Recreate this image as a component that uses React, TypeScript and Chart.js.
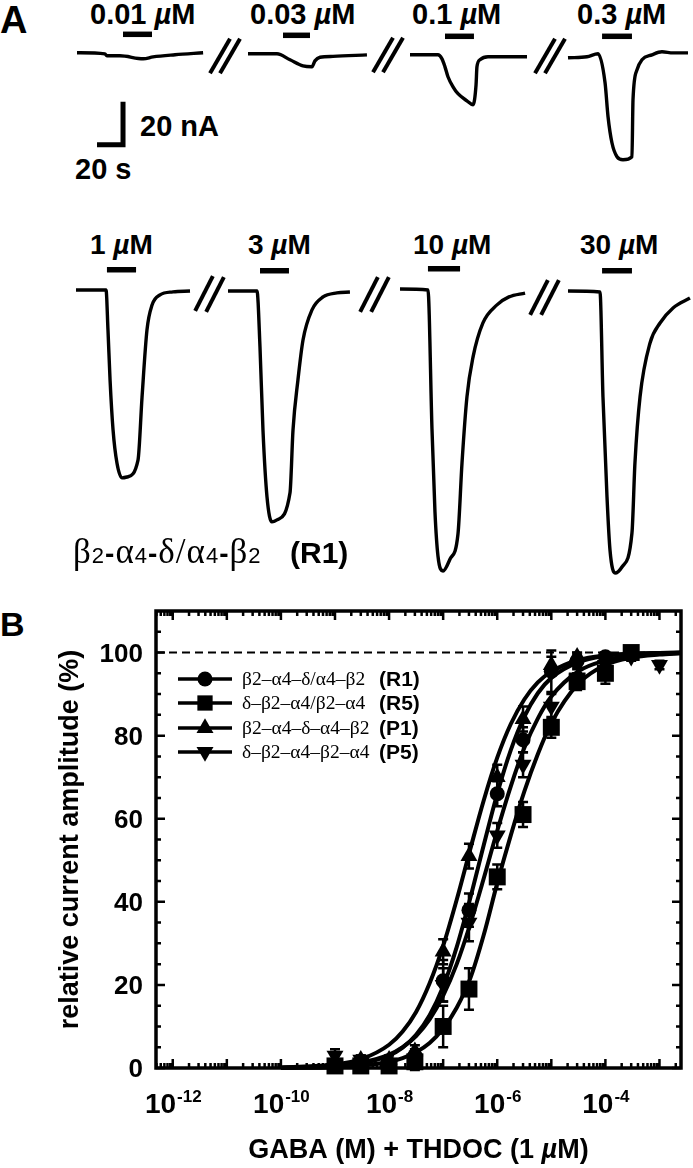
import React, { useEffect, useRef } from "react";
import { Chart, registerables } from "chart.js";

Chart.register(...registerables);

const SANS = '"Liberation Sans", Arial, sans-serif';
const SERIF = '"Liberation Serif", "Times New Roman", serif';

// ---------------- Panel A: current traces (time in s, current in nA) ----------------
const concLabels = ["0.01", "0.03", "0.1", "0.3", "1", "3", "10", "30"];

const time001 = [0, 21.5, 23, 33, 51, 58.5, 75.4, 97];
const curr001 = [0, -0.5, -1.4, -1.4, -2.8, -1.9, -0.9, 0];

const time003 = [0, 22.3, 32.3, 42.3, 49.2, 51.5, 55.4, 65.4, 91.5];
const curr003 = [0, 0, -2.8, -5.6, -6.0, -3.3, -1.6, -1.2, -0.5];

const time01 = [0, 21.5, 24.6, 26.9, 29.2, 33.1, 36.9, 43.8, 48.5, 50.8, 51.5, 53.8, 60, 90];
const curr01 = [0, 0, -1.9, -5.6, -10.2, -14.9, -18.1, -21.4, -23.3, -14, -5.6, -2.3, -0.9, -0.9];

const time03 = [0, 14.6, 23.1, 28.5, 30.8, 33.8, 37.7, 42.3, 49.2, 50, 53.1, 56.9, 64.6, 72.3, 80.8, 92.3];
const curr03 = [-1.4, -0.9, 0.5, -13.0, -28.8, -40.9, -47.4, -48.8, -47.4, -20.9, -7.0, -2.3, 0, 1.4, 0.9, 0.9];

const time1 = [0, 23.1, 24.6, 26.2, 28.5, 31.5, 35.4, 39.2, 47.7, 50.8, 54.6, 58.5, 64.6, 74.6, 87.7];
const curr1 = [0, 0, -18.6, -41.9, -65.1, -80.5, -87.4, -87.0, -79.1, -49.8, -18.6, -7.0, -2.3, -0.9, -0.5];

const time3 = [0, 22.3, 24.6, 26.9, 30, 33.8, 37.7, 47.7, 50, 53.8, 57.7, 64.6, 73.1, 83.8, 93.8];
const curr3 = [0, 0, -26, -64.7, -95.8, -107.4, -106.5, -93.9, -64.7, -41.4, -22.8, -8.8, -2.8, -0.9, -0.5];

const time10 = [0, 21.5, 24.6, 26.9, 29.2, 33.1, 38.5, 44.6, 47.7, 51.5, 56.2, 63.8, 74.6, 83.8, 96.2];
const curr10 = [0, -0.5, -65.1, -103.7, -124.2, -131.2, -125.6, -114, -80.9, -50.2, -31.6, -15.8, -7.4, -3.7, -1.9];

const time30 = [0, 24.6, 26.9, 30, 32.3, 36.2, 41.5, 49.2, 51.5, 55.4, 63.1, 70.8, 80.8, 93.8];
const curr30 = [0, -0.5, -49.3, -95.8, -120.5, -131.2, -128.4, -112.6, -80, -49.3, -24.2, -14.9, -7.9, -3.3];

const barStart = [35.4, 26.9, 26.9, 26.2, 23.8, 24.6, 21.5, 26.2];
const barEnd = [57.7, 47.7, 49.2, 49.2, 46.2, 46.9, 46.2, 49.2];

const scaleBarSeconds = 20;
const scaleBarNanoamps = 20;

const traceTimes = [time001, time003, time01, time03, time1, time3, time10, time30];
const traceCurrents = [curr001, curr003, curr01, curr03, curr1, curr3, curr10, curr30];

// ---------------- Panel B: concentration-response ----------------
const gabaConc = [1e-9, 3e-9, 1e-8, 3e-8, 1e-7, 3e-7, 1e-6, 3e-6, 1e-5, 3e-5, 1e-4, 3e-4, 1e-3];
const r1Mean = [null, 1.5, 1, 3, 21, 38, 66, 79, 95.5, 98, 99, null, null];
const r1Sem = [null, 1, 1, 1.5, 5, 4, 3, 3, 5, 1.5, 1, null, null];
const r5Mean = [0.5, 0.5, 0.5, 1.5, 10, 19, 46, 61, 82, 93, 95, 100, null];
const r5Sem = [1, 1, 1, 2, 5, 5, 3, 3, 2.5, 2, 2.5, 1, null];
const p1Mean = [null, 2, 2, 4, 28, 51, 70, 84, 97, 99, null, null, null];
const p1Sem = [null, 1, 1, 1.5, 3, 3, 3, 3, 2, 1, null, null, null];
const p5Mean = [3, 2, 1, 2, 20, 35, 56, 73, 87, 94, 97, 99, 97];
const p5Sem = [1.5, 1, 1, 1.5, 4, 4.5, 3, 3, 3, 2, 1.5, 1, 1];

const fitConc = [1e-10, 1e-9, 3.16e-9, 1e-8, 1.78e-8, 3.16e-8, 5.62e-8, 1e-7, 1.78e-7, 3.16e-7, 5.62e-7, 1e-6, 1.78e-6, 3.16e-6, 5.62e-6, 1e-5, 3.16e-5, 1e-4, 3.16e-4, 1e-3, 2.5e-3];
const r1Fit = [0.05, 0.39, 1.1, 3.0, 4.9, 8.0, 12.7, 19.6, 29.1, 40.8, 53.6, 66.0, 76.5, 84.5, 90.2, 93.9, 97.7, 99.2, 99.7, 99.9, 100];
const r5Fit = [0.02, 0.2, 0.6, 1.5, 2.4, 3.8, 6.0, 9.5, 14.5, 21.5, 32, 44.5, 56, 66.5, 75.5, 83, 92.5, 97, 98.8, 99.5, 99.8];
const p1Fit = [0.12, 0.83, 2.2, 5.6, 8.8, 13.5, 20.4, 29.4, 40.5, 52.6, 64.4, 74.7, 82.8, 88.7, 92.8, 95.4, 98.2, 99.3, 99.7, 99.9, 100];
const p5Fit = [0.08, 0.53, 1.3, 3.2, 5.0, 7.7, 11.7, 17.4, 25.0, 34.6, 45.6, 57.1, 67.8, 77.0, 84.1, 89.4, 95.5, 98.1, 99.3, 99.7, 99.9];

const seriesNames = ["β2–α4–δ/α4–β2", "δ–β2–α4/β2–α4", "β2–α4–δ–α4–β2", "δ–β2–α4–β2–α4"];
const seriesTags = ["(R1)", "(R5)", "(P1)", "(P5)"];

const xAxisMin = 4.9e-13;
const xAxisMax = 2.5e-3;
const yAxisMin = 0;
const yAxisMax = 110;
const yTickValues = [0, 20, 40, 60, 80, 100];
const xLabelExponents = [-12, -10, -8, -6, -4];

// ---------------- layout ----------------
const PX_PER_S = 1.3;
const PX_PER_NA = 2.15;
const PAD = 8;

const traceLayout = [
  { left: 77, base: 53, row: 0, labelLeft: 90 },
  { left: 248, base: 54, row: 0, labelLeft: 250 },
  { left: 410, base: 55, row: 0, labelLeft: 412 },
  { left: 568, base: 55, row: 0, labelLeft: 577 },
  { left: 76, base: 290, row: 1, labelLeft: 90 },
  { left: 228, base: 291, row: 1, labelLeft: 248 },
  { left: 400, base: 289, row: 1, labelLeft: 413 },
  { left: 568, base: 291, row: 1, labelLeft: 580 },
];
const rowLayout = [
  { yMin: -52, yMax: 12, barLevel: 8.6, labelBaseline: 25, fontSize: 29 },
  { yMin: -135, yMax: 13, barLevel: 9.4, labelBaseline: 255, fontSize: 28 },
];
const scaleBarOrigin = { t: 15.4, i: -42.8 };

const breakMarks = [
  { x: 220, y: 55.5, len: 40, ang: 30 }, { x: 230, y: 55.5, len: 40, ang: 30 },
  { x: 383, y: 55, len: 40, ang: 30 }, { x: 393, y: 55, len: 40, ang: 30 },
  { x: 545, y: 55.5, len: 40, ang: 30 }, { x: 555, y: 55.5, len: 40, ang: 30 },
  { x: 204, y: 293.5, len: 39, ang: 27 }, { x: 215, y: 294.5, len: 39, ang: 27 },
  { x: 369, y: 294, len: 39, ang: 27 }, { x: 380, y: 294, len: 39, ang: 27 },
  { x: 539, y: 297, len: 39, ang: 27 }, { x: 550, y: 297, len: 39, ang: 27 },
];

const markerStyles = [
  { shape: "circle", rot: 0, r: 7.5 },
  { shape: "rect", rot: 0, r: 12 },
  { shape: "triangle", rot: 0, r: 9.8 },
  { shape: "triangle", rot: 180, r: 9.8 },
];

function TraceChart({ index }: { index: number }) {
  const ref = useRef<HTMLCanvasElement>(null);
  const lay = traceLayout[index];
  const row = rowLayout[lay.row];
  const times = traceTimes[index];
  const tEnd = times[times.length - 1];
  const w = Math.ceil(tEnd * PX_PER_S) + 2 * PAD;
  const h = Math.ceil((row.yMax - row.yMin) * PX_PER_NA) + 2 * PAD;
  const xMax = (w - 2 * PAD) / PX_PER_S;
  const yMinAdj = row.yMax - (h - 2 * PAD) / PX_PER_NA;

  useEffect(() => {
    const datasets: any[] = [
      {
        data: times.map((t, i) => ({ x: t, y: traceCurrents[index][i] })),
        borderColor: "#000",
        borderWidth: 3.4,
        pointRadius: 0,
        cubicInterpolationMode: "monotone",
        clip: false,
      },
      {
        data: [
          { x: barStart[index], y: row.barLevel },
          { x: barEnd[index], y: row.barLevel },
        ],
        borderColor: "#000",
        borderWidth: 5.5,
        pointRadius: 0,
        borderCapStyle: "butt",
        clip: false,
      },
    ];
    if (index === 0) {
      datasets.push({
        data: [
          { x: scaleBarOrigin.t, y: scaleBarOrigin.i },
          { x: scaleBarOrigin.t + scaleBarSeconds, y: scaleBarOrigin.i },
          { x: scaleBarOrigin.t + scaleBarSeconds, y: scaleBarOrigin.i + scaleBarNanoamps },
        ],
        borderColor: "#000",
        borderWidth: 5,
        pointRadius: 0,
        tension: 0,
        borderJoinStyle: "miter",
        borderCapStyle: "butt",
        clip: false,
      });
    }
    const chart = new Chart(ref.current as HTMLCanvasElement, {
      type: "line",
      data: { datasets },
      options: {
        animation: false,
        responsive: false,
        devicePixelRatio: 1,
        events: [],
        layout: { padding: PAD },
        plugins: { legend: { display: false }, tooltip: { enabled: false } },
        scales: {
          x: { type: "linear", min: 0, max: xMax, display: false },
          y: { type: "linear", min: yMinAdj, max: row.yMax, display: false },
        },
      } as any,
    });
    return () => chart.destroy();
  }, []);

  return (
    <canvas
      ref={ref}
      width={w}
      height={h}
      style={{
        position: "absolute",
        left: lay.left - PAD,
        top: lay.base - row.yMax * PX_PER_NA - PAD,
        width: w,
        height: h,
      }}
    />
  );
}

function drawMarker(ctx: CanvasRenderingContext2D, shape: string, rot: number, r: number, x: number, y: number) {
  ctx.beginPath();
  if (shape === "circle") {
    ctx.arc(x, y, r, 0, Math.PI * 2);
  } else if (shape === "rect") {
    const s = r * Math.SQRT1_2;
    ctx.rect(x - s, y - s, 2 * s, 2 * s);
  } else {
    let a = (rot * Math.PI) / 180;
    for (let k = 0; k < 3; k++) {
      const px = x + Math.sin(a) * r;
      const py = y - Math.cos(a) * r;
      if (k === 0) ctx.moveTo(px, py);
      else ctx.lineTo(px, py);
      a += (2 * Math.PI) / 3;
    }
    ctx.closePath();
  }
  ctx.fill();
}

function PanelB() {
  const ref = useRef<HTMLCanvasElement>(null);
  useEffect(() => {
    const means = [r1Mean, r5Mean, p1Mean, p5Mean];
    const sems = [r1Sem, r5Sem, p1Sem, p5Sem];
    const fits = [r1Fit, r5Fit, p1Fit, p5Fit];

    const datasets: any[] = [];
    fits.forEach((f) => {
      datasets.push({
        data: fitConc.map((c, i) => ({ x: c, y: f[i] })),
        showLine: true,
        borderColor: "#000",
        borderWidth: 4,
        pointRadius: 0,
        cubicInterpolationMode: "monotone",
        clip: false,
      });
    });
    datasets.push({
      data: [
        { x: xAxisMin, y: 100 },
        { x: xAxisMax, y: 100 },
      ],
      showLine: true,
      borderColor: "#000",
      borderWidth: 2,
      borderDash: [8, 5],
      pointRadius: 0,
    });
    means.forEach((m, s) => {
      const pts: any[] = [];
      const errs: number[] = [];
      gabaConc.forEach((c, i) => {
        if (m[i] != null) {
          pts.push({ x: c, y: m[i] });
          errs.push(sems[s][i] as number);
        }
      });
      const ms = markerStyles[s];
      datasets.push({
        data: pts,
        errs,
        showLine: false,
        pointStyle: ms.shape,
        rotation: ms.rot,
        pointRadius: ms.r,
        pointBackgroundColor: "#000",
        pointBorderColor: "#000",
        pointBorderWidth: 0,
        clip: false,
      });
    });

    const decor = {
      id: "decor",
      afterDatasetsDraw(chart: any) {
        const { ctx } = chart;
        const y = chart.scales.y;
        ctx.save();
        ctx.strokeStyle = "#000";
        ctx.lineWidth = 2.5;
        chart.data.datasets.forEach((ds: any, di: number) => {
          if (!ds.errs) return;
          const meta = chart.getDatasetMeta(di);
          meta.data.forEach((pt: any, i: number) => {
            const v = ds.data[i].y;
            const e = ds.errs[i];
            if (!e) return;
            const y1 = y.getPixelForValue(v - e);
            const y2 = y.getPixelForValue(v + e);
            ctx.beginPath();
            ctx.moveTo(pt.x, y1);
            ctx.lineTo(pt.x, y2);
            ctx.moveTo(pt.x - 5, y1);
            ctx.lineTo(pt.x + 5, y1);
            ctx.moveTo(pt.x - 5, y2);
            ctx.lineTo(pt.x + 5, y2);
            ctx.stroke();
          });
        });
        ctx.restore();
      },
      afterDraw(chart: any) {
        const { ctx, chartArea: ca } = chart;
        const x = chart.scales.x;
        const y = chart.scales.y;
        ctx.save();
        ctx.fillStyle = "#000";
        ctx.strokeStyle = "#000";

        // ticks
        ctx.lineWidth = 2.5;
        ctx.beginPath();
        for (let v = 0; v < yAxisMax; v += 5) {
          const py = y.getPixelForValue(v);
          const len = v % 20 === 0 ? 9 : 5;
          ctx.moveTo(ca.left, py);
          ctx.lineTo(ca.left + len, py);
          ctx.moveTo(ca.right, py);
          ctx.lineTo(ca.right - len, py);
        }
        for (let e = -13; e <= -3; e++) {
          for (let m = 1; m <= 9; m++) {
            const val = m * Math.pow(10, e);
            if (val < xAxisMin || val > xAxisMax) continue;
            const px = x.getPixelForValue(val);
            const len = m === 1 ? 9 : 5;
            ctx.moveTo(px, ca.bottom);
            ctx.lineTo(px, ca.bottom - len);
            ctx.moveTo(px, ca.top);
            ctx.lineTo(px, ca.top + len);
          }
        }
        ctx.stroke();

        // frame
        ctx.lineWidth = 3.5;
        ctx.strokeRect(ca.left, ca.top, ca.right - ca.left, ca.bottom - ca.top);

        // y tick labels
        ctx.font = `bold 26px ${SANS}`;
        ctx.textAlign = "right";
        ctx.textBaseline = "alphabetic";
        yTickValues.forEach((v) => {
          ctx.fillText(String(v), ca.left - 13, y.getPixelForValue(v) + 9);
        });

        // x tick labels 10^n
        ctx.textAlign = "left";
        xLabelExponents.forEach((ex) => {
          const px = x.getPixelForValue(Math.pow(10, ex));
          ctx.font = `bold 28px ${SANS}`;
          const wMain = ctx.measureText("10").width;
          ctx.font = `bold 17px ${SANS}`;
          const sup = String(ex);
          const wSup = ctx.measureText(sup).width;
          const start = px - (wMain + wSup) / 2;
          const base = ca.bottom + 45;
          ctx.font = `bold 28px ${SANS}`;
          ctx.fillText("10", start, base);
          ctx.font = `bold 17px ${SANS}`;
          ctx.fillText(sup, start + wMain + 1, base - 11);
        });

        // y title
        ctx.save();
        ctx.translate(78, (ca.top + ca.bottom) / 2);
        ctx.rotate(-Math.PI / 2);
        ctx.font = `bold 27px ${SANS}`;
        ctx.textAlign = "center";
        ctx.fillText("relative current amplitude (%)", 0, 0);
        ctx.restore();

        // x title with italic µ
        const parts = [
          { t: "GABA (M) + THDOC (1 ", f: `bold 27px ${SANS}` },
          { t: "µ", f: `italic bold 27px ${SANS}` },
          { t: "M)", f: `bold 27px ${SANS}` },
        ];
        let total = 0;
        parts.forEach((p) => {
          ctx.font = p.f;
          total += ctx.measureText(p.t).width;
        });
        let cx = (ca.left + ca.right) / 2 - total / 2;
        parts.forEach((p) => {
          ctx.font = p.f;
          ctx.fillText(p.t, cx, ca.bottom + 90);
          cx += ctx.measureText(p.t).width;
        });

        // legend
        const rowsY = [ca.top + 68, ca.top + 92, ca.top + 117, ca.top + 141];
        rowsY.forEach((ry, s) => {
          ctx.lineWidth = 3.5;
          ctx.beginPath();
          ctx.moveTo(ca.left + 22, ry);
          ctx.lineTo(ca.left + 76, ry);
          ctx.stroke();
          const ms = markerStyles[s];
          drawMarker(ctx, ms.shape, ms.rot, ms.r * (s === 1 ? 0.9 : 1), ca.left + 49, ry);
          ctx.font = `19.5px ${SERIF}`;
          ctx.fillText(seriesNames[s], ca.left + 86, ry + 6);
          ctx.font = `bold 21px ${SANS}`;
          ctx.fillText(seriesTags[s], ca.left + 223, ry + 7);
        });
        ctx.restore();
      },
    };

    const chart = new Chart(ref.current as HTMLCanvasElement, {
      type: "scatter",
      data: { datasets },
      options: {
        animation: false,
        responsive: false,
        devicePixelRatio: 1,
        events: [],
        layout: { padding: { left: 156, right: 6, top: 31, bottom: 100 } },
        plugins: { legend: { display: false }, tooltip: { enabled: false } },
        scales: {
          x: { type: "logarithmic", min: xAxisMin, max: xAxisMax, display: false },
          y: { type: "linear", min: yAxisMin, max: yAxisMax, display: false },
        },
      } as any,
      plugins: [decor],
    });
    return () => chart.destroy();
  }, []);
  return (
    <canvas
      ref={ref}
      width={693}
      height={588}
      style={{ position: "absolute", left: 0, top: 580, width: 693, height: 588 }}
    />
  );
}

function TextAt({ left, baseline, size, children, bold = true, family = SANS, asc = 0.8465, spacing = 0 }: any) {
  return (
    <div
      style={{
        position: "absolute",
        left,
        top: baseline - asc * size,
        fontFamily: family,
        fontSize: size,
        fontWeight: bold ? "bold" : "normal",
        lineHeight: `${size}px`,
        letterSpacing: spacing,
        whiteSpace: "nowrap",
        color: "#000",
      }}
    >
      {children}
    </div>
  );
}

export default function App() {
  const digit: React.CSSProperties = { fontFamily: SANS, fontSize: 22, lineHeight: 0 };
  const hy: React.CSSProperties = { fontFamily: SANS, fontSize: 28, fontWeight: "bold", lineHeight: 0 };
  return (
    <div style={{ position: "absolute", left: 0, top: 0, width: 693, height: 1168, background: "#fff", overflow: "hidden" }}>
      <TextAt left={0} baseline={33} size={38}>A</TextAt>
      <TextAt left={0} baseline={636} size={34}>B</TextAt>

      {traceLayout.map((lay, i) => (
        <TextAt key={"l" + i} left={lay.labelLeft} baseline={rowLayout[lay.row].labelBaseline} size={rowLayout[lay.row].fontSize}>
          {concLabels[i]} <span style={{ fontStyle: "italic" }}>µ</span>M
        </TextAt>
      ))}

      <TextAt left={140} baseline={137} size={29}>20 nA</TextAt>
      <TextAt left={75} baseline={180} size={29}>20 s</TextAt>

      {breakMarks.map((b, i) => (
        <div
          key={"b" + i}
          style={{
            position: "absolute",
            left: b.x - 2,
            top: b.y - b.len / 2,
            width: 4,
            height: b.len,
            background: "#000",
            transform: `rotate(${b.ang}deg)`,
          }}
        />
      ))}

      {traceLayout.map((_, i) => (
        <TraceChart key={"t" + i} index={i} />
      ))}

      <TextAt left={73} baseline={563} size={35} bold={false} family={SERIF} asc={0.8375} spacing={1}>
        β<span style={digit}>2</span><span style={hy}>-</span>α<span style={digit}>4</span><span style={hy}>-</span>δ/α<span style={digit}>4</span><span style={hy}>-</span>β<span style={digit}>2</span>
      </TextAt>
      <TextAt left={290} baseline={563} size={30}>(R1)</TextAt>

      <PanelB />
    </div>
  );
}
